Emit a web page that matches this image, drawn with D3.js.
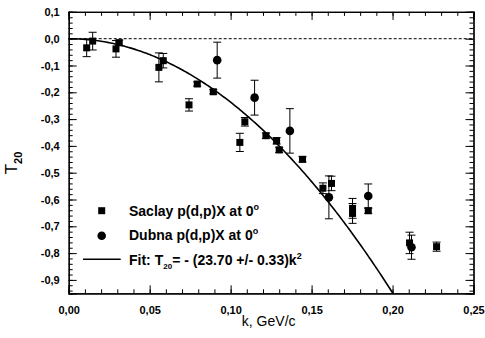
<!DOCTYPE html>
<html><head><meta charset="utf-8">
<script src="https://cdn.jsdelivr.net/npm/d3@7"></script>
<style>body{margin:0;background:#fff}svg{display:block}</style>
</head><body>
<script>
const saclayK = [0.0111,0.0148,0.0292,0.0312,0.0557,0.0584,0.0743,0.0794,0.0893,0.1057,0.1088,0.1218,0.1284,0.1300,0.1444,0.1570,0.1623,0.1753,0.1753,0.1850,0.2105,0.2272];
const saclayT = [-0.034,-0.009,-0.038,-0.015,-0.107,-0.082,-0.247,-0.169,-0.198,-0.387,-0.310,-0.362,-0.381,-0.415,-0.450,-0.558,-0.540,-0.633,-0.652,-0.642,-0.762,-0.776];
const saclayErr = [0.033,0.033,0.031,0.01,0.054,0.027,0.023,0.008,0.008,0.034,0.016,0.01,0.012,0.01,0.01,0.02,0.027,0.037,0.037,0.01,0.04,0.017];
const dubnaK = [0.0917,0.1148,0.1366,0.1607,0.1850,0.2117];
const dubnaT = [-0.080,-0.220,-0.344,-0.592,-0.587,-0.778];
const dubnaErr = [0.067,0.065,0.083,0.08,0.045,0.045];
const fitCoef = 23.70;
const xTicks = [0,0.05,0.10,0.15,0.20,0.25];
const xTickLabels = ["0,00","0,05","0,10","0,15","0,20","0,25"];
const yTicks = [0.1,0,-0.1,-0.2,-0.3,-0.4,-0.5,-0.6,-0.7,-0.8,-0.9];
const yTickLabels = ["0,1","0,0","-0,1","-0,2","-0,3","-0,4","-0,5","-0,6","-0,7","-0,8","-0,9"];

const W=485,H=338, L=68.7, R=473.5, T=11.9, B=293.3;
const svg=d3.select("body").append("svg").attr("width",W).attr("height",H);
const x=d3.scaleLinear().domain([0,0.25]).range([L,R]);
const y=d3.scaleLinear().domain([-0.95,0.1]).range([B,T]);
const font="Liberation Sans, Arial, sans-serif";

// axes with inward ticks
const xMinor=d3.range(0,0.2501,0.01);
const yMinor=d3.range(-0.94,0.1001,0.02);
function addAxis(gen, tr){ const g=svg.append("g").attr("transform",tr).call(gen); g.select(".domain").attr("stroke-width",1.2); g.selectAll("line").attr("stroke-width",1); return g;}
addAxis(d3.axisBottom(x).tickValues(xMinor).tickSize(-4).tickFormat(""),`translate(0,${B})`);
addAxis(d3.axisTop(x).tickValues(xMinor).tickSize(-4).tickFormat(""),`translate(0,${T})`);
addAxis(d3.axisLeft(y).tickValues(yMinor).tickSize(-4).tickFormat(""),`translate(${L},0)`);
addAxis(d3.axisRight(y).tickValues(yMinor).tickSize(-4).tickFormat(""),`translate(${R},0)`);
const xb=addAxis(d3.axisBottom(x).tickValues(xTicks).tickSize(-8).tickPadding(13).tickFormat((d,i)=>xTickLabels[i]),`translate(0,${B})`);
addAxis(d3.axisTop(x).tickValues(xTicks).tickSize(-8).tickFormat(""),`translate(0,${T})`);
const yl=addAxis(d3.axisLeft(y).tickValues(yTicks).tickSize(-8).tickPadding(9).tickFormat((d,i)=>yTickLabels[i]),`translate(${L},0)`);
addAxis(d3.axisRight(y).tickValues(yTicks).tickSize(-8).tickFormat(""),`translate(${R},0)`);
svg.selectAll(".tick text").attr("font-family",font).attr("font-weight","bold").attr("font-size",11).attr("fill","#000");

// zero dashed line
svg.append("line").attr("x1",x(0)).attr("x2",x(0.25)).attr("y1",y(0)).attr("y2",y(0))
  .attr("stroke","#000").attr("stroke-width",1).attr("stroke-dasharray","3,2");

// fit curve
const kMax=Math.sqrt(0.95/fitCoef);
const fitPts=d3.range(0,kMax,0.001).concat([kMax]).map(k=>[k,-fitCoef*k*k]);
svg.append("path").attr("d",d3.line().x(d=>x(d[0])).y(d=>y(d[1]))(fitPts))
  .attr("fill","none").attr("stroke","#000").attr("stroke-width",1.6);

function errBars(K,Tv,E){
  const g=svg.append("g").attr("stroke","#000").attr("stroke-width",1);
  K.forEach((k,i)=>{
    const cx=x(k), y1=y(Tv[i]+E[i]), y2=y(Tv[i]-E[i]);
    g.append("line").attr("x1",cx).attr("x2",cx).attr("y1",y1).attr("y2",y2);
    g.append("line").attr("x1",cx-4).attr("x2",cx+4).attr("y1",y1).attr("y2",y1);
    g.append("line").attr("x1",cx-4).attr("x2",cx+4).attr("y1",y2).attr("y2",y2);
  });
}
errBars(saclayK,saclayT,saclayErr);
errBars(dubnaK,dubnaT,dubnaErr);
svg.append("g").selectAll("rect").data(saclayK).join("rect")
  .attr("x",(d)=>x(d)-3.5).attr("y",(d,i)=>y(saclayT[i])-3.5).attr("width",7).attr("height",7).attr("fill","#000");
svg.append("g").selectAll("circle").data(dubnaK).join("circle")
  .attr("cx",d=>x(d)).attr("cy",(d,i)=>y(dubnaT[i])).attr("r",4.3).attr("fill","#000");

// legend
const lg=svg.append("g").attr("font-family",font).attr("font-weight","bold").attr("font-size",14).attr("fill","#000");
lg.append("rect").attr("x",98.2).attr("y",207.2).attr("width",7).attr("height",7);
lg.append("circle").attr("cx",101.7).attr("cy",235.7).attr("r",4.3);
lg.append("line").attr("x1",83).attr("x2",120.7).attr("y1",259.3).attr("y2",259.3).attr("stroke","#000").attr("stroke-width",1.6);
const t1=lg.append("text").attr("x",129).attr("y",215.5);
t1.append("tspan").text("Saclay p(d,p)X at 0");
t1.append("tspan").attr("font-size",9).attr("dy",-6).text("o");
const t2=lg.append("text").attr("x",129).attr("y",240);
t2.append("tspan").text("Dubna p(d,p)X at 0");
t2.append("tspan").attr("font-size",9).attr("dy",-6).text("o");
const t3=lg.append("text").attr("x",129).attr("y",264.5);
t3.append("tspan").text("Fit: T");
t3.append("tspan").attr("font-size",8).attr("dy",4).text("20");
t3.append("tspan").attr("dy",-4).text("= - (23.70 +/- 0.33)k");
t3.append("tspan").attr("font-size",9).attr("dy",-6).text("2");

// axis titles
svg.append("text").attr("x",268.7).attr("y",326).attr("text-anchor","middle")
  .attr("font-family",font).attr("font-size",14).text("k, GeV/c");
const yt=svg.append("text").attr("transform","translate(17,163) rotate(-90)").attr("text-anchor","middle")
  .attr("font-family",font).attr("font-size",17);
yt.append("tspan").text("T");
yt.append("tspan").attr("font-size",11).attr("dy",5).attr("font-weight","bold").text("20");
</script>
</body></html>
